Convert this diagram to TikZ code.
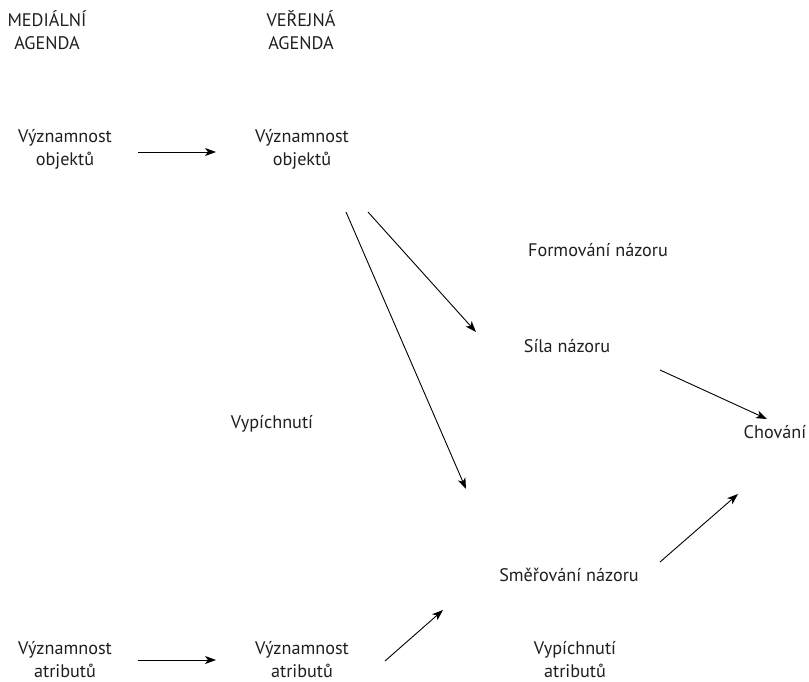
\documentclass[tikz,border=0pt]{standalone}
\usepackage{fontspec}
\setmainfont{PT Sans}
\usetikzlibrary{arrows.meta}
\begin{document}
\begin{tikzpicture}[x=1pt,y=-1pt,
  lbl/.style={font=\fontsize{18.2}{23}\selectfont, align=center, inner sep=0pt, text=black!88},
  flow/.style={line width=0.9pt, -{Stealth[length=11pt,width=8pt,inset=3pt]}}]
\useasboundingbox (0,0) rectangle (809,682);

% column headings
\node[lbl] (hmed) at (47,30) {MEDIÁLNÍ\\AGENDA};
\node[lbl] (hpub) at (301,30) {VEŘEJNÁ\\AGENDA};

% objects
\node[lbl] (mobj) at (65,149) {Významnost\\objektů};
\node[lbl] (pobj) at (302,149) {Významnost\\objektů};

% attributes
\node[lbl] (matr) at (65,660) {Významnost\\atributů};
\node[lbl] (patr) at (302,660) {Významnost\\atributů};

% opinion nodes
\node[lbl] (form) at (598,250) {Formování názoru};
\node[lbl] (sila) at (567,346) {Síla názoru};
\node[lbl] (vyp)  at (272,424) {Vypíchnutí};
\node[lbl] (chov) at (775,432) {Chování};
\node[lbl] (smer) at (569,575) {Směřování názoru};
\node[lbl] (vypa) at (575,660) {Vypíchnutí\\atributů};

% arrow end points
\coordinate (a1s) at (138,152); \coordinate (a1e) at (216,152);
\coordinate (a2s) at (346,212); \coordinate (a2e) at (466,489);
\coordinate (a3s) at (368,212); \coordinate (a3e) at (476,332);
\coordinate (a4s) at (660,370); \coordinate (a4e) at (767,419);
\coordinate (a5s) at (660,562); \coordinate (a5e) at (738,494);
\coordinate (a6s) at (385,661); \coordinate (a6e) at (443,610);
\coordinate (a7s) at (138,660); \coordinate (a7e) at (216,660);

\draw[flow] (a1s) -- (a1e);
\draw[flow] (a2s) -- (a2e);
\draw[flow] (a3s) -- (a3e);
\draw[flow] (a4s) -- (a4e);
\draw[flow] (a5s) -- (a5e);
\draw[flow] (a6s) -- (a6e);
\draw[flow] (a7s) -- (a7e);
\end{tikzpicture}
\end{document}
